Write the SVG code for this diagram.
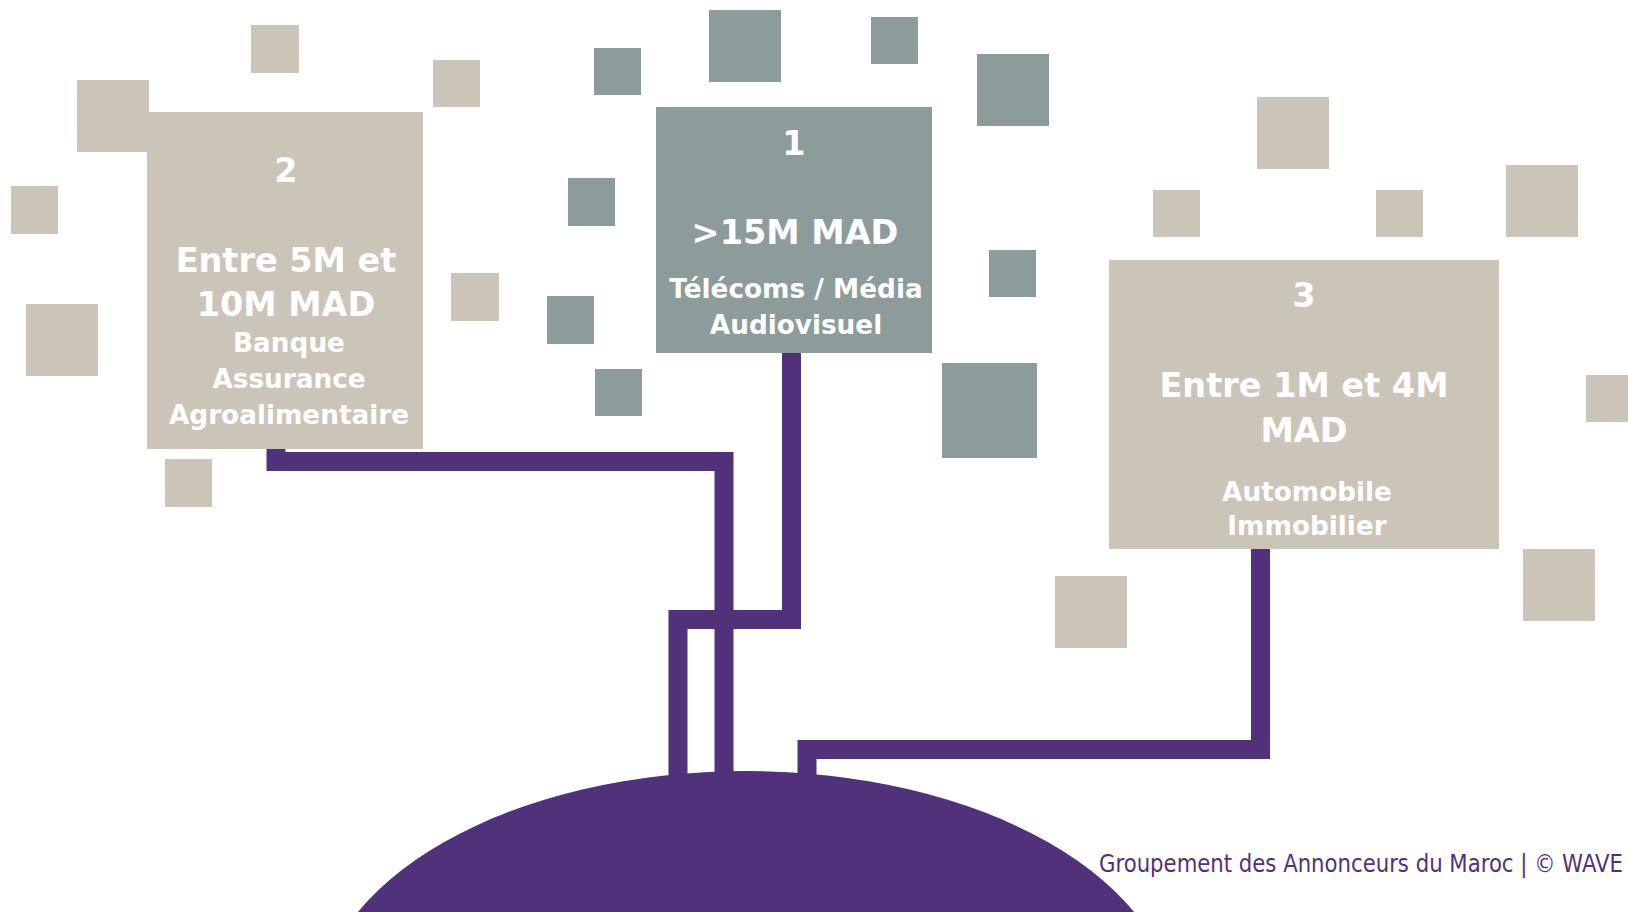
<svg xmlns="http://www.w3.org/2000/svg" width="1628" height="912" viewBox="0 0 1628 912">
<style>
.b{fill:#CBC5B9}
.g{fill:#8C9C9B}
.t{font-family:"DejaVu Sans","Liberation Sans",sans-serif;font-weight:bold;fill:#FFFFFF;text-anchor:middle}
.h{font-size:33.5px}
.s{font-size:26.3px}
.c{fill:none;stroke:#51317A;stroke-width:19;stroke-linejoin:miter;stroke-linecap:butt}
.f{font-family:"DejaVu Sans","Liberation Sans",sans-serif;font-size:25px;fill:#51317A}
</style>
<rect width="1628" height="912" fill="#FFFFFF"/>
<g id="decor">
<rect class="b" x="251" y="25" width="48" height="48"/>
<rect class="b" x="433" y="60" width="47" height="47"/>
<rect class="b" x="77" y="80" width="72" height="72"/>
<rect class="b" x="11" y="186" width="47" height="48"/>
<rect class="b" x="26" y="304" width="72" height="72"/>
<rect class="b" x="451" y="273" width="48" height="48"/>
<rect class="b" x="165" y="459" width="47" height="48"/>
<rect class="b" x="1257" y="97" width="72" height="72"/>
<rect class="b" x="1153" y="190" width="47" height="47"/>
<rect class="b" x="1376" y="190" width="47" height="47"/>
<rect class="b" x="1506" y="165" width="72" height="72"/>
<rect class="b" x="1586" y="375" width="48" height="47"/>
<rect class="b" x="1523" y="549" width="72" height="72"/>
<rect class="b" x="1055" y="576" width="72" height="72"/>
<rect class="g" x="594" y="48" width="47" height="47"/>
<rect class="g" x="709" y="10" width="72" height="72"/>
<rect class="g" x="871" y="17" width="47" height="47"/>
<rect class="g" x="977" y="54" width="72" height="72"/>
<rect class="g" x="568" y="178" width="47" height="48"/>
<rect class="g" x="547" y="296" width="47" height="48"/>
<rect class="g" x="595" y="369" width="47" height="47"/>
<rect class="g" x="989" y="250" width="47" height="47"/>
<rect class="g" x="942" y="363" width="95" height="95"/>
</g>
<g id="connectors">
<path class="c" d="M276,449 V461.5 H724 V790"/>
<path class="c" d="M791.5,353 V619.5 H678 V790"/>
<path class="c" d="M1260.5,549 V749.5 H807 V790"/>
</g>
<g id="base">
<ellipse cx="746" cy="1015" rx="428" ry="244" fill="#51317A"/>
</g>
<g id="node2">
<rect class="b" x="147" y="112" width="276" height="337"/>
<text class="t h" x="286" y="182">2</text>
<text class="t h" x="286" y="272">Entre 5M et</text>
<text class="t h" x="286" y="316">10M MAD</text>
<text class="t s" x="289" y="352">Banque</text>
<text class="t s" x="289" y="388">Assurance</text>
<text class="t s" x="289" y="424">Agroalimentaire</text>
</g>
<g id="node1">
<rect class="g" x="656" y="107" width="276" height="246"/>
<text class="t h" x="794" y="155">1</text>
<text class="t h" x="795" y="244">&gt;15M MAD</text>
<text class="t s" x="796" y="298">Télécoms / Média</text>
<text class="t s" x="796" y="334">Audiovisuel</text>
</g>
<g id="node3">
<rect class="b" x="1109" y="260" width="390" height="289"/>
<text class="t h" x="1304" y="307">3</text>
<text class="t h" x="1304" y="397">Entre 1M et 4M</text>
<text class="t h" x="1304" y="442">MAD</text>
<text class="t s" x="1307" y="501">Automobile</text>
<text class="t s" x="1307" y="535">Immobilier</text>
</g>
<g id="footer">
<text class="f" x="1099" y="872" textLength="524" lengthAdjust="spacingAndGlyphs">Groupement des Annonceurs du Maroc | © WAVE</text>
</g>
</svg>
